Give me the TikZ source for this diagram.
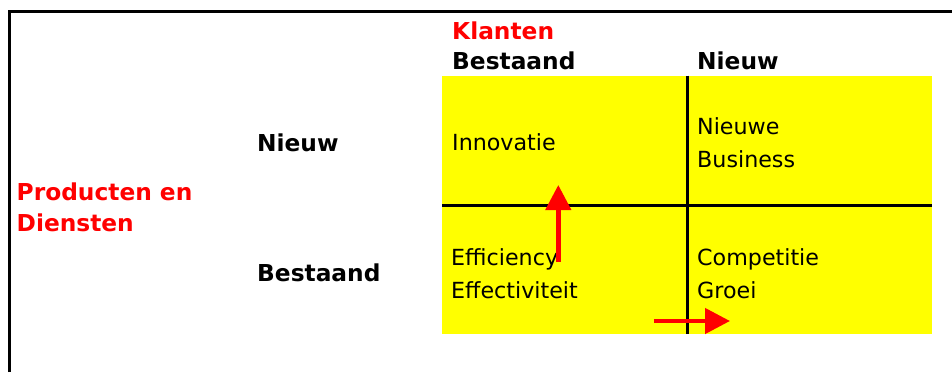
\documentclass[tikz,border=0pt]{standalone}
\usepackage{fontspec}
\setmainfont{DejaVu Sans}
\usetikzlibrary{arrows.meta}
\definecolor{quadfill}{RGB}{255,255,0}
\definecolor{accent}{RGB}{255,0,0}
\begin{document}
\begin{tikzpicture}[x=1pt,y=-1pt,
  lbl/.style={inner sep=0pt, anchor=base west, font=\fontsize{22.2}{33}\selectfont},
  hdr/.style={inner sep=0pt, anchor=base west, font=\bfseries\fontsize{23.3}{31}\selectfont},
  axislbl/.style={hdr, text=accent},
  gridline/.style={line width=3pt, black},
  frameline/.style={line width=3pt, black, line join=miter},
  move/.style={accent, line width=4.5pt, -{Triangle[length=25pt,width=25pt]}}]
\useasboundingbox (0,0) rectangle (952,372);

% outer frame (top and left edge)
\draw[frameline] (9.5,372) -- (9.5,11.5) -- (952,11.5);

% the yellow 2x2 matrix
\fill[quadfill] (442,75.7) rectangle (932,334);
\draw[gridline] (687.5,75.7) -- (687.5,334);
\draw[gridline] (442,205.5) -- (932,205.5);

% axis titles
\node[axislbl] (klanten) at (452,39) {Klanten};
\node[axislbl] (prod) at (16.5,200) {\begin{tabular}[t]{@{}l@{}}Producten en\\Diensten\end{tabular}};

% column headings
\node[hdr] (colOld) at (452,69.5) {Bestaand};
\node[hdr] (colNew) at (697,69.5) {Nieuw};

% row headings
\node[hdr] (rowNew) at (257,151.7) {Nieuw};
\node[hdr] (rowOld) at (257,281) {Bestaand};

% quadrant texts
\node[lbl] (innov) at (452,150.7) {Innovatie};
\node[lbl] (newbiz) at (697,134) {\begin{tabular}[t]{@{}l@{}}Nieuwe\\Business\end{tabular}};
\node[lbl] (eff) at (451,265) {\begin{tabular}[t]{@{}l@{}}Efficiency\\Effectiviteit\end{tabular}};
\node[lbl] (comp) at (697,265.3) {\begin{tabular}[t]{@{}l@{}}Competitie\\Groei\end{tabular}};

% growth arrows
\coordinate (upFrom) at (558.3,262);
\coordinate (upTo) at (558.3,185);
\coordinate (rightFrom) at (654,321);
\coordinate (rightTo) at (730,321);
\draw[move] (upFrom) -- (upTo);
\draw[move] (rightFrom) -- (rightTo);
\end{tikzpicture}
\end{document}
